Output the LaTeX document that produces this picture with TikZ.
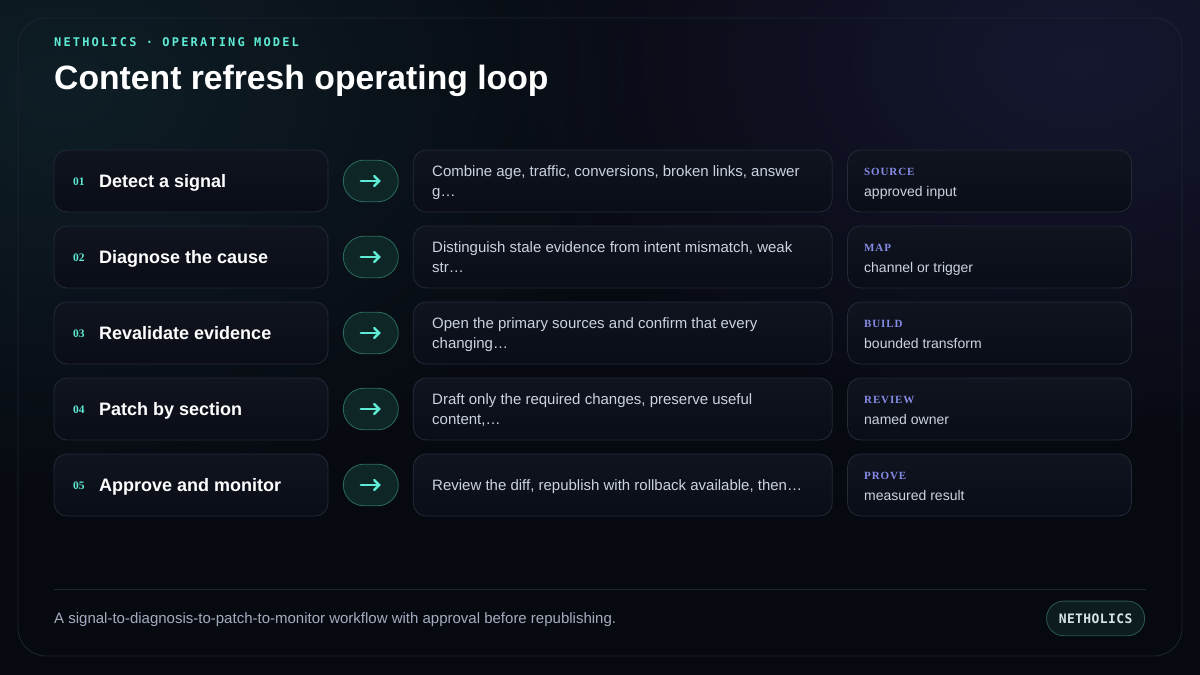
\documentclass[tikz,border=0pt]{standalone}
\usepackage{fontspec}
\setmainfont{Liberation Sans}
\newfontfamily\numfont{Liberation Serif}
\newfontfamily\tagfont[LetterSpace=8]{Liberation Serif}
\newfontfamily\monofont[LetterSpace=18,BoldFont={DejaVu Sans Mono Bold}]{DejaVu Sans Mono}
\newfontfamily\badgefont[LetterSpace=3,BoldFont={DejaVu Sans Mono Bold}]{DejaVu Sans Mono}
\usetikzlibrary{fadings,arrows.meta}
\definecolor{bgbase}{HTML}{070910}
\definecolor{glowteal}{HTML}{10222A}
\definecolor{glowpurple}{HTML}{181A36}
\definecolor{panelline}{HTML}{1E2430}
\definecolor{boxtop}{HTML}{10141F}
\definecolor{boxbot}{HTML}{0A0D16}
\definecolor{boxline}{HTML}{232A38}
\definecolor{teal}{HTML}{5EEAD4}
\definecolor{pillfill}{HTML}{0F2626}
\definecolor{pillline}{HTML}{2A6A60}
\definecolor{indigo}{HTML}{858CE6}
\definecolor{desc}{HTML}{CBD3E1}
\definecolor{foot}{HTML}{A4ADC0}
\definecolor{badgefill}{HTML}{0D1C1F}
\definecolor{badgeline}{HTML}{2B5754}
\definecolor{badgetext}{HTML}{D6E4E8}
\tikzfading[name=glowfade, inner color=transparent!15, outer color=transparent!100]
\tikzset{
  card/.style={draw=boxline, line width=0.8pt, rounded corners=13pt, top color=boxtop, bottom color=boxbot, minimum height=62pt, inner sep=0pt},
  pill/.style={draw=pillline, line width=0.8pt, fill=pillfill, rounded corners=20.8pt, minimum width=55pt, minimum height=41.6pt, inner sep=0pt},
  arrowico/.style={draw=teal, line width=2.4pt, line cap=round, -{Straight Barb[length=5pt, width=10pt, line cap=round]}},
  numtxt/.style={anchor=base west, inner sep=0pt, text=teal, font=\numfont\bfseries\fontsize{11.5}{13}\selectfont},
  steptxt/.style={anchor=base west, inner sep=0pt, text=white, font=\bfseries\fontsize{18}{22}\selectfont},
  desctxt/.style={anchor=base west, inner sep=0pt, text=desc, align=left, font=\fontsize{15}{20}\selectfont},
  tagtxt/.style={anchor=base west, inner sep=0pt, text=indigo, font=\tagfont\bfseries\fontsize{11}{13}\selectfont},
  valtxt/.style={anchor=base west, inner sep=0pt, text=desc, font=\fontsize{14}{17}\selectfont},
}
\begin{document}
\begin{tikzpicture}[x=1pt,y=-1pt]
\useasboundingbox (0,0) rectangle (1200,675);
\fill[bgbase] (0,0) rectangle (1200,675);
\begin{scope}
\clip (0,0) rectangle (1200,675);
\fill[glowteal, path fading=glowfade] (60,90) ellipse (620 and 420);
\fill[glowpurple, path fading=glowfade] (1080,60) ellipse (600 and 400);
\end{scope}
\draw[panelline, line width=0.9pt, rounded corners=28pt] (18,18) rectangle (1182,656);

\node[anchor=base west, inner sep=0pt, text=teal, font=\monofont\bfseries\fontsize{12}{14}\selectfont] (kicker) at (54,46) {NETHOLICS · OPERATING MODEL};
\node[anchor=base west, inner sep=0pt, text=white, font=\bfseries\fontsize{33.7}{38}\selectfont] (title) at (54,89) {Content refresh operating loop};

\foreach \i/\num/\step/\dA/\dB/\tag/\val in {
  0/01/Detect a signal/{Combine age, traffic, conversions, broken links, answer}/{g…}/SOURCE/approved input,
  1/02/Diagnose the cause/{Distinguish stale evidence from intent mismatch, weak}/{str…}/MAP/channel or trigger,
  2/03/Revalidate evidence/{Open the primary sources and confirm that every}/{changing…}/BUILD/bounded transform,
  3/04/Patch by section/{Draft only the required changes, preserve useful}/{content,…}/REVIEW/named owner,
  4/05/Approve and monitor/{Review the diff, republish with rollback available, then…}//PROVE/measured result}
{
  \pgfmathsetmacro{\cy}{181+76*\i}
  \node[card, minimum width=274pt] (step\num) at (191,\cy) {};
  \node[numtxt] (n\num) at (73,\cy+4) {\num};
  \node[steptxt] (s\num) at (99,\cy+6.5) {\step};
  \node[pill] (p\num) at (370.8,\cy) {};
  \draw[arrowico] ([xshift=-10pt]p\num.center) -- ([xshift=10pt]p\num.center);
  \node[card, minimum width=419pt] (desc\num) at (622.8,\cy) {};
  \ifx\dB\empty
    \node[desctxt] (d\num) at (432,\cy+5.5) {\dA};
  \else
    \node[desctxt] (d\num) at (432,\cy+15.7) {\dA\\\dB};
  \fi
  \node[card, minimum width=284pt] (tagbox\num) at (989.5,\cy) {};
  \node[tagtxt] (t\num) at (864,\cy-6) {\tag};
  \node[valtxt] (v\num) at (864,\cy+15) {\val};
}

\coordinate (fl) at (54,589.3);
\coordinate (fr) at (1146,589.3);
\draw[panelline, line width=0.9pt] (fl) -- (fr);
\node[anchor=base west, inner sep=0pt, text=foot, font=\fontsize{15}{18}\selectfont] (footer) at (54,623.3) {A signal-to-diagnosis-to-patch-to-monitor workflow with approval before republishing.};
\node[draw=badgeline, line width=0.8pt, fill=badgefill, rounded corners=17pt, minimum width=98pt, minimum height=34.6pt, inner sep=0pt, text=badgetext, font=\badgefont\bfseries\fontsize{13}{15}\selectfont] (badge) at (1095.6,618.4) {NETHOLICS};
\end{tikzpicture}
\end{document}
